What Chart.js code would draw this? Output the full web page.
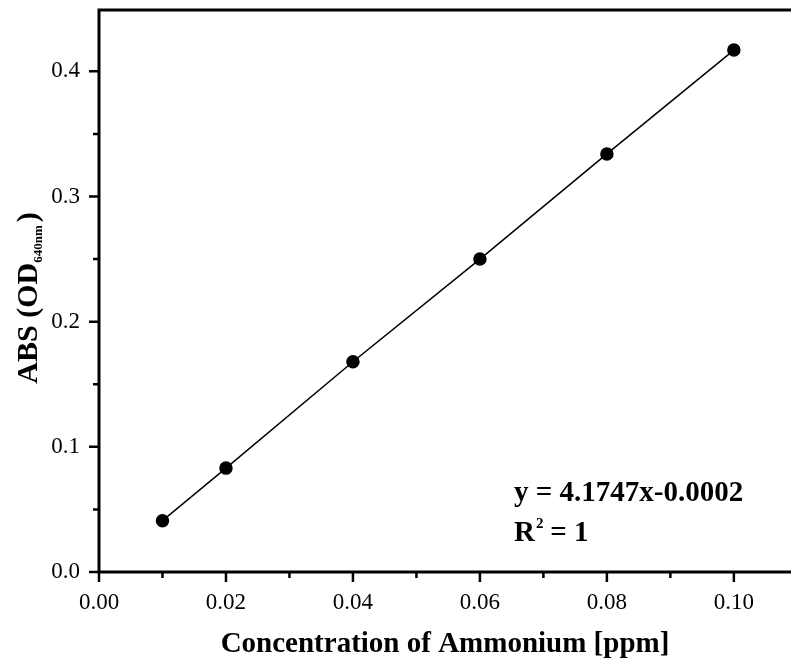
<!DOCTYPE html>
<html><head><meta charset="utf-8">
<script src="https://cdn.jsdelivr.net/npm/chart.js@4"></script>
<style>html,body{margin:0;padding:0;background:#fff}#wrap{width:791px;height:666px}</style>
</head><body><div id="wrap"><canvas id="c" width="791" height="666"></canvas></div>
<script>
const concentrations = [0.01, 0.02, 0.04, 0.06, 0.08, 0.10];
const absorbance = [0.041, 0.083, 0.168, 0.250, 0.334, 0.417];
const xMajorTicks = [0.00, 0.02, 0.04, 0.06, 0.08, 0.10];
const yMajorTicks = [0.0, 0.1, 0.2, 0.3, 0.4];
const xTitle = 'Concentration of Ammonium [ppm]';
const equationText = 'y = 4.1747x-0.0002';

const FONT = '"Liberation Serif", "Times New Roman", serif';

const axesPlugin = {
  id: 'axesPlugin',
  afterDraw(chart) {
    const ctx = chart.ctx, a = chart.chartArea;
    const xs = chart.scales.x, ys = chart.scales.y;
    ctx.save();
    ctx.strokeStyle = '#000';
    ctx.lineWidth = 3;
    ctx.lineCap = 'butt';
    ctx.beginPath();
    ctx.moveTo(a.left, a.top - 1.5); ctx.lineTo(a.left, a.bottom + 1.5);
    ctx.moveTo(a.left - 1.5, a.bottom); ctx.lineTo(a.right + 5, a.bottom);
    ctx.moveTo(a.left - 1.5, a.top); ctx.lineTo(a.right + 5, a.top);
    ctx.stroke();
    ctx.lineWidth = 2.5;
    ctx.beginPath();
    for (let i = 0; i <= 11; i++) {
      const px = xs.getPixelForValue(i * 0.01);
      const len = (i % 2 === 0) ? 10 : 6;
      ctx.moveTo(px, a.bottom); ctx.lineTo(px, a.bottom + len);
    }
    for (let i = 0; i <= 8; i++) {
      const py = ys.getPixelForValue(i * 0.05);
      const len = (i % 2 === 0) ? 10 : 6;
      ctx.moveTo(a.left, py); ctx.lineTo(a.left - len, py);
    }
    ctx.stroke();
    ctx.fillStyle = '#000';
    // x title
    ctx.font = 'bold 29px ' + FONT;
    ctx.textAlign = 'center';
    ctx.textBaseline = 'alphabetic';
    ctx.fillText(xTitle, (a.left + 791) / 2, 652);
    // y title with subscript
    ctx.save();
    ctx.translate(37, 298);
    ctx.rotate(-Math.PI / 2);
    ctx.textAlign = 'left';
    const big = 'bold 30px ' + FONT, small = 'bold 13px ' + FONT;
    ctx.font = big; const w1 = ctx.measureText('ABS (OD').width;
    ctx.font = small; const w2 = ctx.measureText('640nm').width;
    ctx.font = big; const w3 = ctx.measureText(')').width;
    const tot = w1 + w2 + w3 + 3;
    let x0 = -tot / 2;
    ctx.font = big; ctx.fillText('ABS (OD', x0, 0);
    ctx.font = small; ctx.fillText('640nm', x0 + w1, 5);
    ctx.font = big; ctx.fillText(')', x0 + w1 + w2 + 3, 0);
    ctx.restore();
    // annotation
    ctx.textAlign = 'left';
    ctx.font = 'bold 29px ' + FONT;
    ctx.fillText(equationText, 514, 501);
    ctx.fillText('R', 514, 541);
    const rw = ctx.measureText('R').width;
    ctx.font = 'bold 15px ' + FONT;
    ctx.fillText('2', 514 + rw + 1, 528);
    ctx.font = 'bold 29px ' + FONT;
    ctx.fillText(' = 1', 514 + rw + 8, 541);
    ctx.restore();
  }
};

new Chart(document.getElementById('c'), {
  type: 'scatter',
  data: {
    datasets: [{
      data: concentrations.map((x, i) => ({x, y: absorbance[i]})),
      showLine: true,
      borderColor: '#000',
      borderWidth: 1.5,
      backgroundColor: '#000',
      pointRadius: 6,
      pointHoverRadius: 6,
      pointBackgroundColor: '#000',
      pointBorderColor: '#000'
    }]
  },
  options: {
    responsive: false,
    animation: false,
    events: [],
    layout: { autoPadding: false, padding: { top: 10, right: 0, left: 0, bottom: 0 } },
    plugins: { legend: { display: false }, tooltip: { enabled: false } },
    scales: {
      x: {
        type: 'linear', min: 0, max: 0.109,
        grid: { display: false, drawTicks: false },
        border: { display: false },
        afterBuildTicks: s => { s.ticks = xMajorTicks.map(v => ({value: v})); },
        ticks: { color: '#000', font: { family: FONT, size: 23 }, padding: 17, maxRotation: 0,
          callback: v => v.toFixed(2) },
        title: { display: false },
        afterFit: s => { s.height = 94; s.paddingLeft = 0; s.paddingRight = 0; }
      },
      y: {
        type: 'linear', min: 0, max: 0.449,
        grid: { display: false, drawTicks: false },
        border: { display: false },
        afterBuildTicks: s => { s.ticks = yMajorTicks.map(v => ({value: v})); },
        ticks: { color: '#000', font: { family: FONT, size: 23 }, padding: 19,
          callback: v => v.toFixed(1) },
        afterFit: s => { s.width = 99; s.paddingTop = 0; s.paddingBottom = 0; }
      }
    }
  },
  plugins: [axesPlugin]
});
</script></body></html>
